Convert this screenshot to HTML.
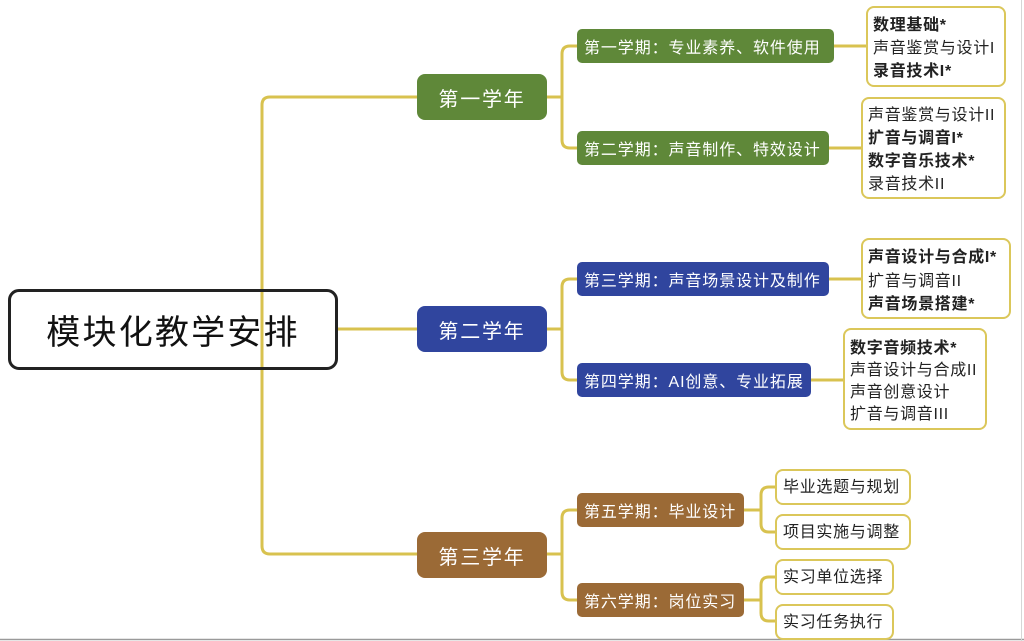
<!DOCTYPE html>
<html><head><meta charset="utf-8">
<style>
html,body{margin:0;padding:0;background:#fff;}
body{width:1024px;height:641px;position:relative;overflow:hidden;font-family:"Liberation Sans","Noto Sans CJK SC",sans-serif;}
.b{position:absolute;box-sizing:border-box;}
.root{left:8px;top:289px;width:330px;height:81px;border:3px solid #222;border-radius:11px;display:flex;align-items:center;justify-content:center;font-size:34px;letter-spacing:2.2px;color:#111;padding-left:0;}
.yr{left:417px;width:130px;height:46px;border-radius:8px;color:#fff;font-size:20px;letter-spacing:1.8px;display:flex;align-items:center;justify-content:center;}
.sem{left:577px;height:34px;border-radius:5px;color:#fff;font-size:16px;letter-spacing:0.9px;display:flex;align-items:center;padding-left:7px;white-space:nowrap;}
.g{background:#5f8839;}
.bl{background:#30459e;}
.br{background:#9b6a36;}
.leaf{border:2.5px solid #dbc75a;border-radius:8px;background:#fff;color:#222;font-size:16px;letter-spacing:0.7px;line-height:22.8px;display:flex;flex-direction:column;justify-content:center;padding-left:5px;padding-top:6px;white-space:nowrap;}
.leaf b{font-weight:bold;}
.one{padding-left:6px;padding-top:3px;}
</style></head><body>
<svg class="b" style="left:0;top:0" width="1024" height="641">
<g fill="none" stroke="#d8c24f" stroke-width="3" stroke-linecap="round">
<path d="M418,97 H270 Q262,97 262,105 V546 Q262,554 270,554 H418"/>
<path d="M338,329 H418"/>
<path d="M547,97 H562"/>
<path d="M578,46 H570 Q562,46 562,54 V140 Q562,148 570,148 H578"/>
<path d="M834,46 H866"/>
<path d="M829,148 H861"/>
<path d="M547,329 H562"/>
<path d="M578,279 H570 Q562,279 562,287 V372 Q562,380 570,380 H578"/>
<path d="M829,279 H861"/>
<path d="M811,380 H843"/>
<path d="M547,554 H562"/>
<path d="M578,510 H570 Q562,510 562,518 V592 Q562,600 570,600 H578"/>
<path d="M744,510 H761"/>
<path d="M776,487 H769 Q761,487 761,495 V524 Q761,532 769,532 H776"/>
<path d="M744,600 H761"/>
<path d="M776,577 H769 Q761,577 761,585 V613 Q761,621 769,621 H776"/>
</g>
<line x1="0" y1="639.5" x2="1024" y2="639.5" stroke="#9a9a9a" stroke-width="1.5"/>
<line x1="1021.5" y1="0" x2="1021.5" y2="641" stroke="#d6d6d6" stroke-width="1"/>
</svg>

<div class="b root">模块化教学安排</div>

<div class="b yr g" style="top:74px;">第一学年</div>
<div class="b yr bl" style="top:306px;">第二学年</div>
<div class="b yr br" style="top:532px;">第三学年</div>

<div class="b sem g" style="top:29px;width:257px;">第一学期：专业素养、软件使用</div>
<div class="b sem g" style="top:131px;width:252px;">第二学期：声音制作、特效设计</div>
<div class="b sem bl" style="top:262px;width:252px;">第三学期：声音场景设计及制作</div>
<div class="b sem bl" style="top:363px;width:234px;">第四学期：AI创意、专业拓展</div>
<div class="b sem br" style="top:493px;width:167px;">第五学期：毕业设计</div>
<div class="b sem br" style="top:583px;width:167px;">第六学期：岗位实习</div>

<div class="b leaf" style="left:866px;top:6px;width:140px;height:81px;"><b>数理基础*</b><span>声音鉴赏与设计I</span><b>录音技术I*</b></div>
<div class="b leaf" style="left:861px;top:97px;width:145px;height:102px;"><span>声音鉴赏与设计II</span><b>扩音与调音I*</b><b>数字音乐技术*</b><span>录音技术II</span></div>
<div class="b leaf" style="left:861px;top:238px;width:150px;height:81px;line-height:23.5px;"><b>声音设计与合成I*</b><span>扩音与调音II</span><b>声音场景搭建*</b></div>
<div class="b leaf" style="left:843px;top:328px;width:144px;height:102px;line-height:22px;"><b>数字音频技术*</b><span>声音设计与合成II</span><span>声音创意设计</span><span>扩音与调音III</span></div>

<div class="b leaf one" style="left:775px;top:469px;width:136px;height:36px;">毕业选题与规划</div>
<div class="b leaf one" style="left:775px;top:514px;width:136px;height:36px;">项目实施与调整</div>
<div class="b leaf one" style="left:775px;top:559px;width:119px;height:36px;">实习单位选择</div>
<div class="b leaf one" style="left:775px;top:604px;width:119px;height:36px;">实习任务执行</div>
</body></html>
